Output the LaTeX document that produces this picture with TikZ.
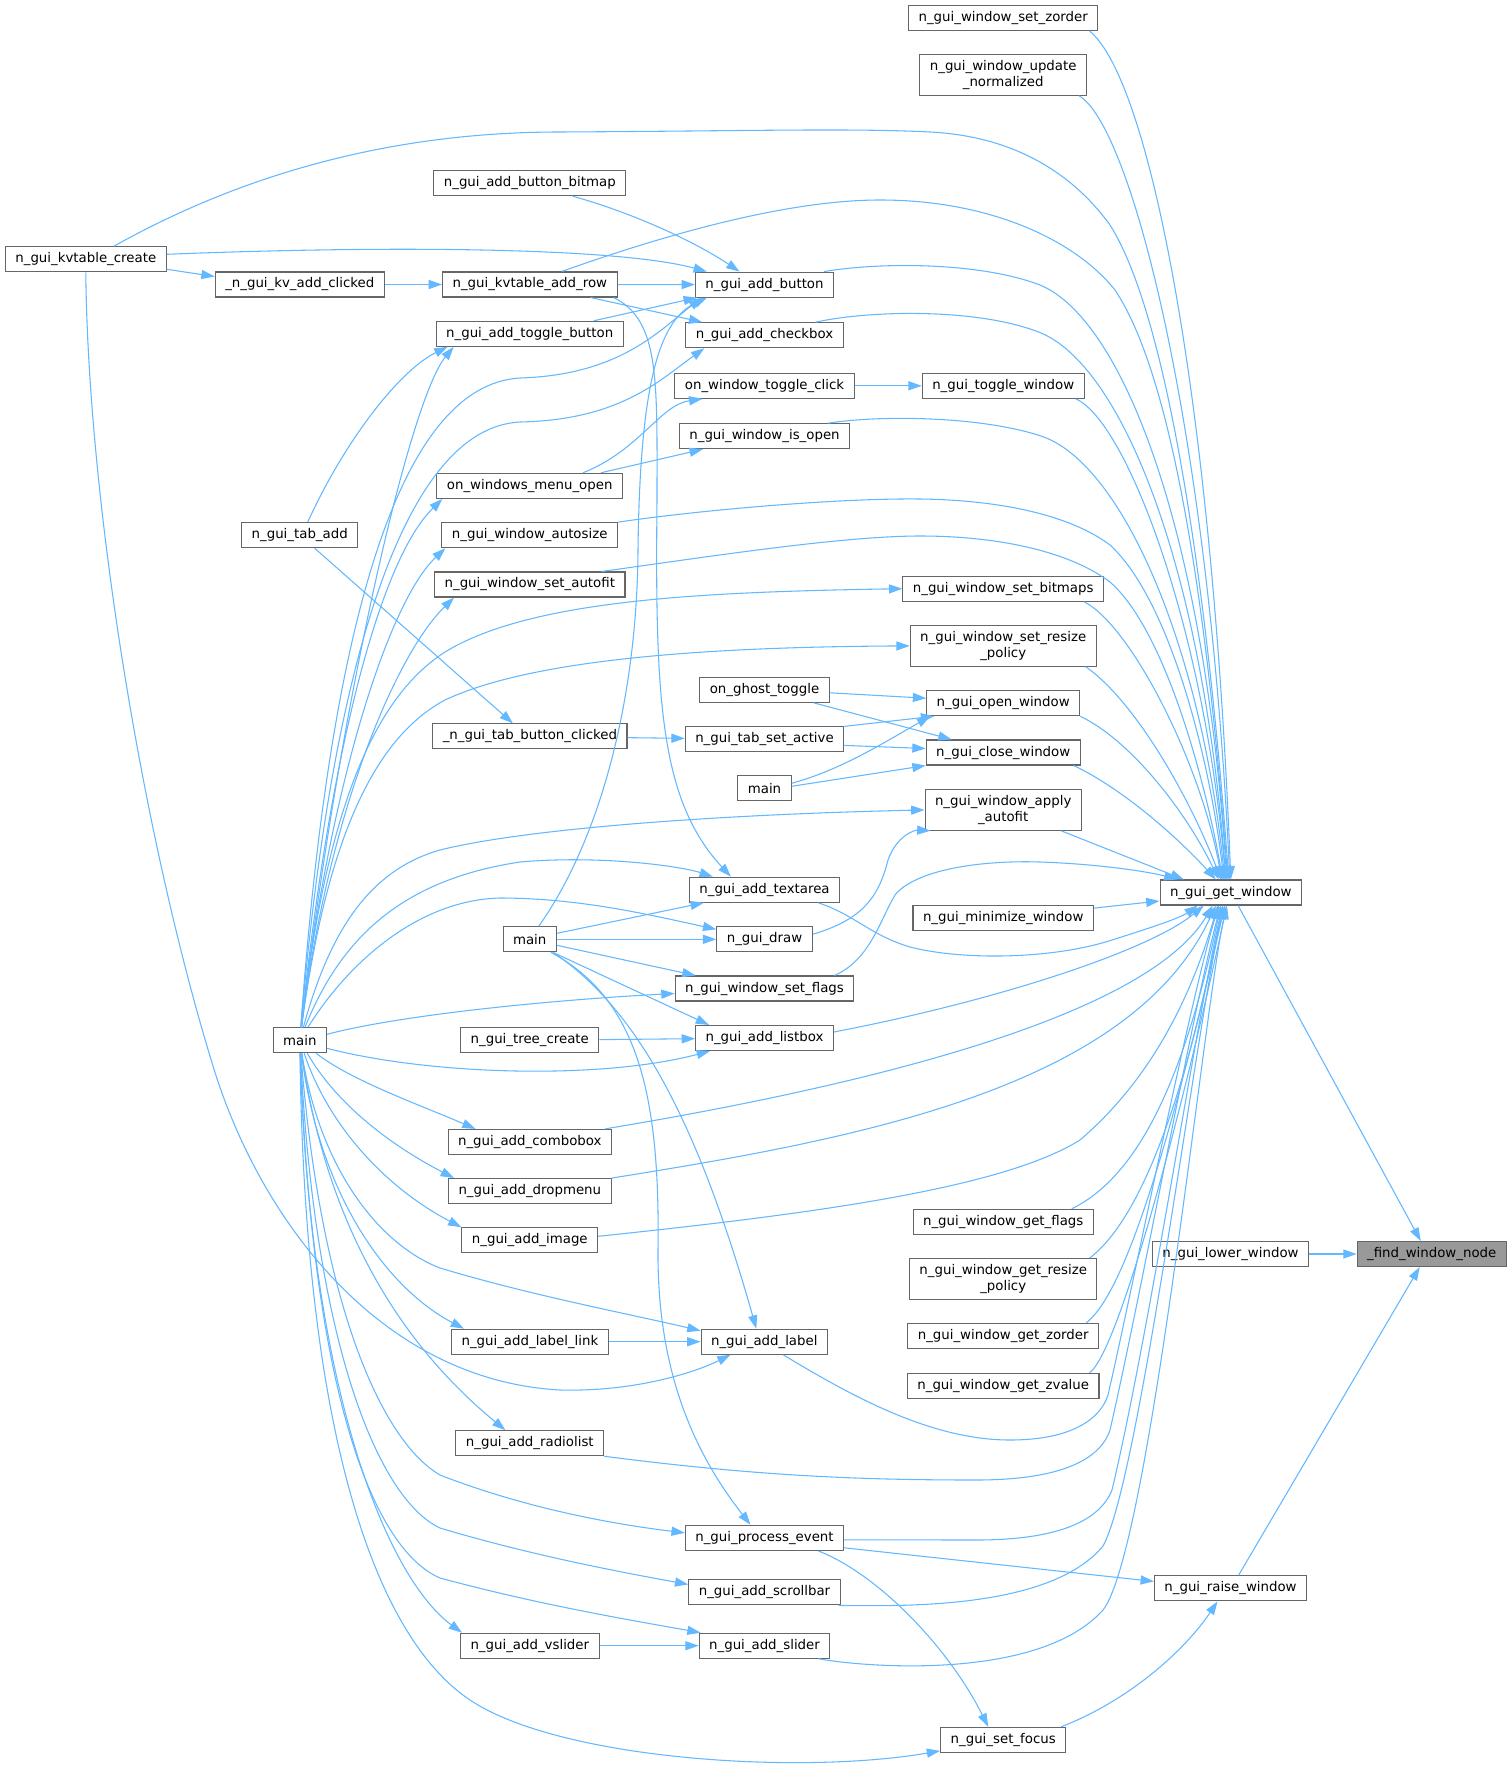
\documentclass[tikz,border=0pt]{standalone}
\usepackage{fontspec}
\setmainfont{DejaVu Sans}
\usetikzlibrary{arrows.meta,calc}
\definecolor{edgeblue}{HTML}{63B8FF}
\definecolor{boxgray}{HTML}{666666}
\definecolor{rootfill}{HTML}{999999}
\begin{document}
\begin{tikzpicture}[x=0.75pt,y=-0.75pt,
 fn/.style={draw=boxgray,line width=0.8pt,rectangle,inner xsep=7.5pt,inner ysep=0pt,minimum height=18.75pt,font=\fontsize{10}{11.5}\selectfont,text=black},
 fn2/.style={fn,align=center,minimum height=30.4pt},
 root/.style={fn,fill=rootfill},
 cedge/.style={draw=edgeblue,line width=0.8pt,-{Triangle[length=10pt,width=6.8pt]}}]
\fill[white] (0,0) rectangle (1512,1777);
\useasboundingbox (0,0) rectangle (1512,1777);
% column 0
\node[fn] (kvc) at (85.8,259.3) {n\_gui\_kvtable\_create};
\node[fn] (kvac) at (299.8,284.5) {\_n\_gui\_kv\_add\_clicked};
\node[fn] (tabadd) at (299.7,535.2) {n\_gui\_tab\_add};
\node[fn] (main0) at (299.8,1040.3) {main};
% column 1
\node[fn] (bbmp) at (529.8,183.2) {n\_gui\_add\_button\_bitmap};
\node[fn] (kvrow) at (529.8,284.5) {n\_gui\_kvtable\_add\_row};
\node[fn] (toggleb) at (529.7,333.8) {n\_gui\_add\_toggle\_button};
\node[fn] (wmopen) at (529.7,485.8) {on\_windows\_menu\_open};
\node[fn] (autosize) at (529.7,535.2) {n\_gui\_window\_autosize};
\node[fn] (setautofit) at (529.8,584.5) {n\_gui\_window\_set\_autofit};
\node[fn] (tabbc) at (529.9,736.4) {\_n\_gui\_tab\_button\_clicked};
\node[fn] (main1) at (529.7,939.3) {main};
\node[fn] (treec) at (529.8,1040.3) {n\_gui\_tree\_create};
\node[fn] (combo) at (529.8,1141.9) {n\_gui\_add\_combobox};
\node[fn] (dropm) at (529.8,1191.1) {n\_gui\_add\_dropmenu};
\node[fn] (image) at (529.8,1240.3) {n\_gui\_add\_image};
\node[fn] (lablink) at (529.9,1341.7) {n\_gui\_add\_label\_link};
\node[fn] (radio) at (529.8,1443.2) {n\_gui\_add\_radiolist};
\node[fn] (vslider) at (529.8,1645.7) {n\_gui\_add\_vslider};
% column 2
\node[fn] (button) at (764.5,284.6) {n\_gui\_add\_button};
\node[fn] (checkbox) at (764.5,335.2) {n\_gui\_add\_checkbox};
\node[fn] (wtclick) at (764.5,385.8) {on\_window\_toggle\_click};
\node[fn] (isopen) at (764.5,436.2) {n\_gui\_window\_is\_open};
\node[fn] (ghost) at (764.5,689.8) {on\_ghost\_toggle};
\node[fn] (tabset) at (764.5,739.4) {n\_gui\_tab\_set\_active};
\node[fn] (main2) at (764.5,788.3) {main};
\node[fn] (textarea) at (764.5,889.7) {n\_gui\_add\_textarea};
\node[fn] (draw) at (764.5,939.3) {n\_gui\_draw};
\node[fn] (setflags) at (764.5,988.5) {n\_gui\_window\_set\_flags};
\node[fn] (listbox) at (764.5,1038) {n\_gui\_add\_listbox};
\node[fn] (label) at (764.3,1341.7) {n\_gui\_add\_label};
\node[fn] (procev) at (764.5,1537.8) {n\_gui\_process\_event};
\node[fn] (scroll) at (764.5,1592.4) {n\_gui\_add\_scrollbar};
\node[fn] (slider) at (764.5,1645.7) {n\_gui\_add\_slider};
% column 3
\node[fn] (zorder) at (1003.2,17.8) {n\_gui\_window\_set\_zorder};
\node[fn2] (updnorm) at (1003.2,75) {n\_gui\_window\_update\\\_normalized};
\node[fn] (togglew) at (1003.2,385.8) {n\_gui\_toggle\_window};
\node[fn] (bitmaps) at (1003.2,588.7) {n\_gui\_window\_set\_bitmaps};
\node[fn2] (resizep) at (1003.2,645.9) {n\_gui\_window\_set\_resize\\\_policy};
\node[fn] (openw) at (1003.2,703.2) {n\_gui\_open\_window};
\node[fn] (closew) at (1003.2,752.5) {n\_gui\_close\_window};
\node[fn2] (applyaf) at (1003.2,809.9) {n\_gui\_window\_apply\\\_autofit};
\node[fn] (minim) at (1003.2,918.1) {n\_gui\_minimize\_window};
\node[fn] (getflags) at (1003.2,1221.8) {n\_gui\_window\_get\_flags};
\node[fn2] (getresize) at (1003.2,1279) {n\_gui\_window\_get\_resize\\\_policy};
\node[fn] (getzorder) at (1003.2,1335.9) {n\_gui\_window\_get\_zorder};
\node[fn] (getzvalue) at (1003.2,1385.9) {n\_gui\_window\_get\_zvalue};
\node[fn] (setfocus) at (1003.2,1739.8) {n\_gui\_set\_focus};
% column 4, 5
\node[fn] (gw) at (1230.8,892.5) {n\_gui\_get\_window};
\node[fn] (lower) at (1230.5,1254) {n\_gui\_lower\_window};
\node[fn] (raise) at (1230.5,1588.4) {n\_gui\_raise\_window};
\node[root] (find) at (1431.7,1254) {\_find\_window\_node};

% ---- edges to _find_window_node
\draw[cedge] ($(gw.south east)+(-64,0)$) -- ($(find.north)+(-11,0)$);
\draw[cedge] (lower) -- (find);
\draw[cedge] ($(raise.north)+(8,0)$) -- ($(find.south)+(-12,0)$);

% ---- edges to n_gui_get_window (from above)
\draw[cedge] ($(zorder.south east)+(-9,0)$) .. controls (1150,80) and (1212,400) .. ($(gw.north)+(0,0)$);
\draw[cedge] ($(updnorm.south east)+(-8,0)$) .. controls (1130,125) and (1208,420) .. ($(gw.north)+(-1,0)$);
\draw[cedge] ($(kvc.north)+(28,0)$) .. controls (250,170) and (400,132) .. (560,132) .. controls (750,131) and (850,128) .. (930,132) .. controls (1010,136) and (1070,170) .. (1110,225) .. controls (1170,320) and (1208,600) .. ($(gw.north)+(-2,0)$);
\draw[cedge] ($(kvrow.north)+(32,0)$) .. controls (650,240) and (780,200) .. (880,200) .. controls (990,200) and (1075,240) .. (1115,290) .. controls (1175,380) and (1208,620) .. ($(gw.north)+(-3,0)$);
\draw[cedge] ($(button.north east)+(-10,0)$) .. controls (880,262) and (980,262) .. (1040,285) .. controls (1120,318) and (1203,520) .. ($(gw.north)+(-4,0)$);
\draw[cedge] ($(checkbox.north east)+(-28,0)$) .. controls (870,310) and (980,308) .. (1041,333) .. controls (1120,366) and (1202,560) .. ($(gw.north)+(-5,0)$);
\draw[cedge] ($(togglew.south east)+(-9,0)$) .. controls (1125,420) and (1203,620) .. ($(gw.north)+(-5,0)$);
\draw[cedge] ($(isopen.north east)+(-22,0)$) .. controls (880,415) and (980,416) .. (1041,436) .. controls (1120,462) and (1200,640) .. ($(gw.north)+(-6,0)$);
\draw[cedge] (autosize.north east) .. controls (700,510) and (840,498) .. (920,499) .. controls (1000,500) and (1070,515) .. (1110,545) .. controls (1170,600) and (1210,760) .. ($(gw.north)+(-7,0)$);
\draw[cedge] ($(setautofit.north east)+(-24,0)$) .. controls (700,558) and (840,536) .. (920,536) .. controls (1000,536) and (1070,552) .. (1110,582) .. controls (1165,630) and (1205,780) .. ($(gw.north)+(-8,0)$);
\draw[cedge] ($(bitmaps.south east)+(-20,0)$) .. controls (1130,625) and (1200,760) .. ($(gw.north)+(-9,0)$);
\draw[cedge] ($(resizep.south east)+(-11,0)$) .. controls (1140,705) and (1195,810) .. ($(gw.north)+(-10,0)$);
\draw[cedge] (openw.south east) .. controls (1130,740) and (1185,810) .. ($(gw.north)+(-12,0)$);
\draw[cedge] ($(closew.south east)+(-7,0)$) .. controls (1125,790) and (1180,840) .. ($(gw.north)+(-15,0)$);
\draw[cedge] ($(applyaf.south east)+(-21,0)$) -- ($(gw.north)+(-47,0)$);
\draw[cedge] ($(setflags.north east)+(-20,0)$) .. controls (870,960) and (880,920) .. (895,895) .. controls (915,870) and (980,860) .. (1040,862) .. controls (1100,864) and (1150,872) .. ($(gw.north west)+(18,0)$);
\draw[cedge] ($(minim.east)+(0,-10)$) -- ($(gw.west)+(0,8.5)$);
\draw[cedge] ($(textarea.south east)+(-22,0)$) .. controls (855,915) and (870,935) .. (910,947) .. controls (960,960) and (1050,960) .. (1112,940) .. controls (1150,928) and (1180,918) .. ($(gw.south)+(-33,0)$);

% ---- edges to n_gui_get_window (from below)
\draw[cedge] ($(listbox.east)+(0,-6)$) .. controls (1000,1000) and (1150,950) .. ($(gw.south)+(-27,0)$);
\draw[cedge] ($(combo.north east)+(-7,0)$) .. controls (900,1080) and (1150,1010) .. ($(gw.south)+(-18,0)$);
\draw[cedge] (dropm.north east) .. controls (850,1140) and (1130,1090) .. ($(gw.south)+(-15,0)$);
\draw[cedge] ($(image.east)+(0,-4)$) .. controls (800,1215) and (1000,1190) .. (1080,1140) .. controls (1150,1080) and (1190,1000) .. ($(gw.south)+(-13,0)$);
\draw[cedge] ($(getflags.north east)+(-22,0)$) .. controls (1130,1180) and (1180,1100) .. ($(gw.south)+(-10,0)$);
\draw[cedge] ($(getresize.north east)+(-8,0)$) .. controls (1140,1220) and (1185,1100) .. ($(gw.south)+(-8,0)$);
\draw[cedge] ($(getzorder.north east)+(-13,0)$) .. controls (1130,1290) and (1180,1100) .. ($(gw.south)+(-6,0)$);
\draw[cedge] ($(getzvalue.north east)+(-10,0)$) .. controls (1120,1350) and (1185,1100) .. ($(gw.south)+(-4,0)$);
\draw[cedge] ($(label.south east)+(-45,0)$) .. controls (850,1395) and (930,1440) .. (1010,1440) .. controls (1070,1440) and (1100,1420) .. (1108,1395) .. controls (1130,1300) and (1190,1000) .. ($(gw.south)+(-12,0)$);
\draw[cedge] (radio.south east) .. controls (750,1475) and (850,1480) .. (976,1480) .. controls (1060,1480) and (1100,1460) .. (1110,1430) .. controls (1140,1300) and (1195,1000) .. ($(gw.south)+(-10,0)$);
\draw[cedge] ($(procev.east)+(0,2)$) -- (976,1540) .. controls (1060,1540) and (1100,1520) .. (1112,1490) .. controls (1150,1330) and (1200,1000) .. ($(gw.south)+(-8,0)$);
\draw[cedge] ($(scroll.south east)+(-2,0)$) .. controls (900,1606) and (1050,1610) .. (1103,1546) .. controls (1140,1480) and (1200,1000) .. ($(gw.south)+(-6,0)$);
\draw[cedge] ($(slider.south east)+(-12,0)$) .. controls (870,1668) and (1040,1680) .. (1103,1610) .. controls (1150,1550) and (1205,1000) .. ($(gw.south)+(-4,0)$);

% ---- raise / focus
\draw[cedge] ($(procev.east)+(0,10)$) -- ($(raise.west)+(0,-7)$);
\draw[cedge] ($(procev.south east)+(-26,0)$) .. controls (880,1575) and (950,1650) .. ($(setfocus.north)+(-15,0)$);
\draw[cedge] ($(setfocus.north east)+(-5,0)$) .. controls (1130,1700) and (1185,1650) .. ($(raise.south)+(-13,0)$);

% ---- main (column 0), upward
\draw[cedge] (main0) .. controls (340,700) and (410,400) .. ($(toggleb.south west)+(18,0)$);
\draw[cedge] (main0) .. controls (330,620) and (400,385) .. (520,378) .. controls (620,375) and (660,330) .. ($(button.south west)+(7,0)$);
\draw[cedge] (main0) .. controls (330,680) and (400,428) .. (520,422) .. controls (620,420) and (660,380) .. ($(checkbox.south west)+(19,0)$);
\draw[cedge] (main0) .. controls (330,750) and (380,560) .. ($(wmopen.south west)+(6,0)$);
\draw[cedge] (main0) .. controls (330,780) and (390,600) .. ($(autosize.south west)+(4,0)$);
\draw[cedge] (main0) .. controls (330,800) and (400,650) .. ($(setautofit.south west)+(20,0)$);
\draw[cedge] (main0) .. controls (325,820) and (370,700) .. (445,652) .. controls (530,600) and (700,592) .. (bitmaps.west);
\draw[cedge] (main0) .. controls (325,850) and (370,740) .. (445,700) .. controls (530,660) and (700,647) .. (resizep.west);
\draw[cedge] (main0) .. controls (330,930) and (370,870) .. (440,850) .. controls (520,830) and (700,815) .. (applyaf.west);
\draw[cedge] (main0) .. controls (340,940) and (400,880) .. (520,862) .. controls (600,855) and (680,866) .. ($(textarea.north west)+(24,0)$);
\draw[cedge] (main0) .. controls (350,960) and (420,900) .. (500,898) .. controls (580,898) and (650,915) .. ($(draw.north west)+(0,3)$);
\draw[cedge] ($(main0.east)+(0,-6)$) .. controls (400,1015) and (550,1000) .. ($(setflags.west)+(0,5)$);
\draw[cedge] ($(main0.east)+(0,8)$) .. controls (430,1075) and (600,1080) .. ($(listbox.south west)+(15,0)$);
% ---- main (column 0), downward
\draw[cedge] (main0) .. controls (350,1080) and (420,1105) .. ($(combo.north west)+(28,0)$);
\draw[cedge] (main0) .. controls (340,1110) and (400,1150) .. ($(dropm.north west)+(6,0)$);
\draw[cedge] (main0) .. controls (330,1130) and (390,1190) .. (image.north west);
\draw[cedge] (main0) .. controls (320,1170) and (380,1245) .. (440,1268) .. controls (530,1295) and (620,1312) .. ($(label.north west)+(0,2)$);
\draw[cedge] (main0) .. controls (320,1200) and (390,1290) .. ($(lablink.north west)+(13,0)$);
\draw[cedge] (main0) .. controls (330,1250) and (420,1360) .. ($(radio.north west)+(50,0)$);
\draw[cedge] (main0) .. controls (320,1300) and (380,1440) .. (440,1475) .. controls (530,1510) and (620,1525) .. ($(procev.west)+(0,-5)$);
\draw[cedge] (main0) .. controls (315,1350) and (380,1500) .. (440,1528) .. controls (530,1555) and (620,1572) .. ($(scroll.west)+(0,-8)$);
\draw[cedge] (main0) .. controls (312,1400) and (375,1550) .. (440,1578) .. controls (540,1605) and (630,1620) .. ($(slider.north west)+(2,0)$);
\draw[cedge] (main0) .. controls (310,1400) and (390,1580) .. ($(vslider.north west)+(2,0)$);
\draw[cedge] (main0) .. controls (305,1450) and (380,1640) .. (470,1700) .. controls (560,1760) and (800,1775) .. ($(setfocus.south west)+(0,-2)$);

% ---- main (column 1)
\draw[cedge] ($(main1.north)+(9,0)$) .. controls (600,840) and (637,700) .. (638,550) .. controls (640,380) and (660,320) .. ($(button.south west)+(12,0)$);
\draw[cedge] ($(main1.east)+(0,-6)$) -- ($(textarea.south west)+(15,0)$);
\draw[cedge] (main1) -- (draw);
\draw[cedge] ($(main1.east)+(0,6)$) -- ($(setflags.north west)+(21,0)$);
\draw[cedge] ($(main1.south east)+(-4,0)$) -- ($(listbox.north west)+(14,0)$);
\draw[cedge] ($(main1.south east)+(-4,0)$) .. controls (640,1010) and (700,1130) .. ($(label.north)+(-8,0)$);
\draw[cedge] ($(main1.south east)+(-6,0)$) .. controls (640,1000) and (660,1100) .. (658,1250) .. controls (657,1380) and (700,1460) .. ($(procev.north)+(-14,0)$);

% ---- main (column 2)
\draw[cedge] ($(main2.east)+(0,-5)$) .. controls (840,770) and (880,745) .. ($(openw.south west)+(4,0)$);
\draw[cedge] ($(main2.east)+(0,-2)$) -- (closew.south west);

% ---- others
\draw[cedge] ($(ghost.east)+(0,3)$) -- ($(openw.west)+(0,-5)$);
\draw[cedge] ($(ghost.south east)+(-16,0)$) -- ($(closew.north west)+(26,0)$);
\draw[cedge] (tabset.north east) -- ($(openw.south west)+(8,0)$);
\draw[cedge] ($(tabset.east)+(0,6)$) -- ($(closew.west)+(0,-4)$);
\draw[cedge] (tabbc) -- (tabset);
\draw[cedge] ($(tabadd.south)+(15,0)$) -- ($(tabbc.north)+(-17,0)$);
\draw[cedge] ($(tabadd.north)+(8,0)$) .. controls (345,440) and (400,370) .. ($(toggleb.south west)+(12,0)$);
\draw[cedge] (kvac) -- (kvrow);
\draw[cedge] ($(kvc.east)+(0,10)$) -- ($(kvac.west)+(0,-8)$);
\draw[cedge] ($(kvc.east)+(0,-5)$) .. controls (400,245) and (620,248) .. ($(button.north west)+(12,0)$);
\draw[cedge] ($(bbmp.south)+(43,0)$) .. controls (640,215) and (700,245) .. ($(button.north)+(-25,0)$);
\draw[cedge] ($(toggleb.north east)+(-30,0)$) -- ($(button.south west)+(2,0)$);
\draw[cedge] (kvrow) -- (button);
\draw[cedge] ($(kvrow.south east)+(-27,0)$) -- ($(checkbox.north west)+(17,0)$);
\draw[cedge] ($(kvrow.south east)+(-4,0)$) .. controls (660,320) and (657,380) .. (657,500) .. controls (655,700) and (660,800) .. ($(textarea.north west)+(42,0)$);
\draw[cedge] ($(wmopen.north east)+(-40,0)$) .. controls (640,450) and (660,405) .. ($(wtclick.south west)+(28,0)$);
\draw[cedge] ($(wmopen.north east)+(-22,0)$) -- ($(isopen.south west)+(24,0)$);
\draw[cedge] (wtclick) -- (togglew);
\draw[cedge] ($(draw.east)+(0,-5)$) .. controls (860,920) and (878,900) .. (888,860) .. controls (897,835) and (915,830) .. ($(applyaf.south west)+(6,0)$);
\draw[cedge] (treec) -- (listbox);
\draw[cedge] (lablink) -- (label);
\draw[cedge] (vslider) -- (slider);
\draw[cedge] (kvc.south) .. controls (88,500) and (142,835) .. (213,1066) .. controls (260,1220) and (380,1380) .. (560,1390) .. controls (640,1392) and (700,1370) .. ($(label.south west)+(30,0)$);
\end{tikzpicture}
\end{document}
